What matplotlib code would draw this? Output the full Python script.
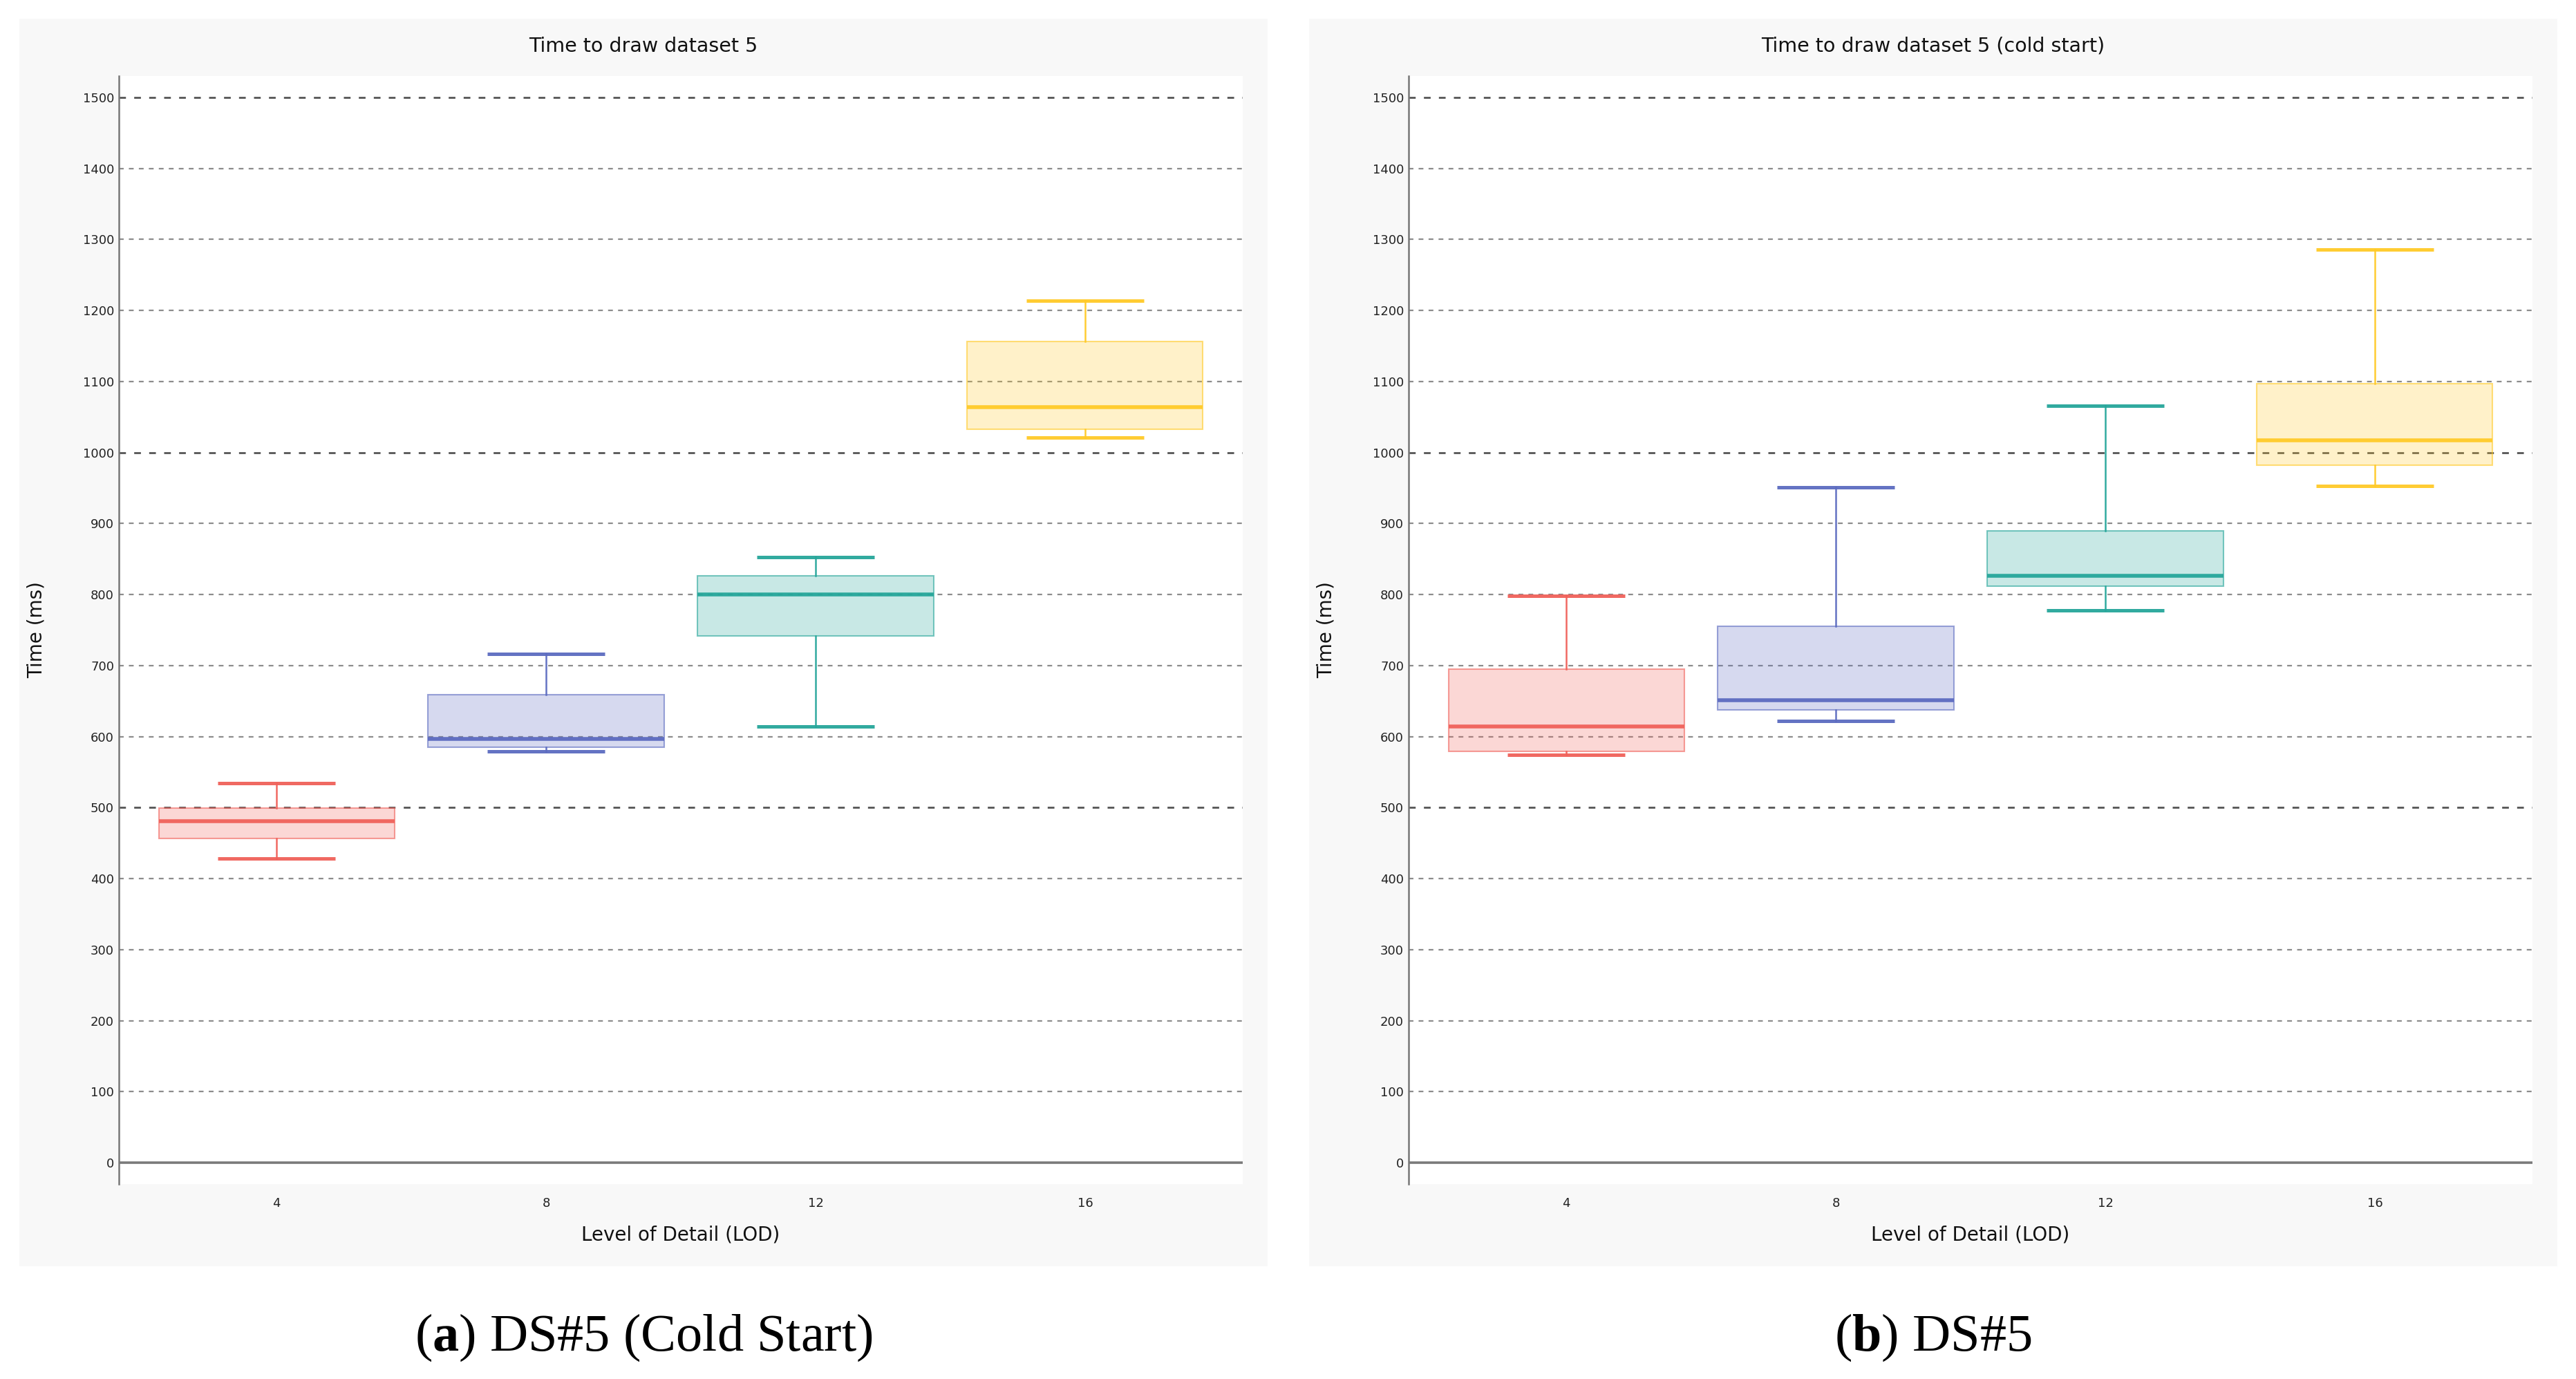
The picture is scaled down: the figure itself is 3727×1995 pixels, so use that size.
import matplotlib
matplotlib.use("Agg")
import matplotlib.pyplot as plt
from matplotlib.patches import Rectangle
from matplotlib.colors import to_rgba

plt.rcParams['font.family'] = ['DejaVu Sans']
plt.rcParams['lines.scale_dashes'] = False
plt.rcParams['mathtext.fontset'] = 'custom'
plt.rcParams['mathtext.rm'] = 'Liberation Serif'
plt.rcParams['mathtext.bf'] = 'Liberation Serif:bold'

# level of detail categories
lod = [4, 8, 12, 16]
colors = ['#f0615a', '#5c6bc0', '#26a69a', '#ffca28']

# (a) left panel - box statistics (ms)
a_low = [428, 579, 614, 1021]
a_q1 = [457, 585, 742, 1033]
a_med = [481, 597, 800, 1064]
a_q3 = [499, 659, 826, 1156]
a_high = [534, 716, 853, 1214]

# (b) right panel - box statistics (ms)
b_low = [574, 622, 778, 953]
b_q1 = [579, 638, 812, 982]
b_med = [614, 651, 826, 1017]
b_q3 = [695, 755, 890, 1097]
b_high = [798, 951, 1066, 1286]

yticks = list(range(0, 1600, 100))

W, H = 3727, 1995
fig = plt.figure(figsize=(W / 100, H / 100), dpi=100, facecolor='white')


def px_rect(x0, y0, x1, y1):
    # pixel box (top-left origin) -> figure fraction [l, b, w, h]
    return [x0 / W, 1 - y1 / H, (x1 - x0) / W, (y1 - y0) / H]


def draw_panel(bg_x0, title, caption, low, q1, med, q3, high):
    bg = px_rect(bg_x0, 27, bg_x0 + 1806, 1832)
    fig.patches.append(Rectangle((bg[0], bg[1]), bg[2], bg[3], transform=fig.transFigure,
                                 facecolor='#f8f8f8', edgecolor='none', zorder=-5))
    ax_x0 = bg_x0 + 144
    ax = fig.add_axes(px_rect(ax_x0, 110, ax_x0 + 1626, 1713))
    ax.set_facecolor('white')

    # horizontal guide lines: solid at 0, long dashes every 500, short dashes otherwise
    for v in yticks:
        if v == 0:
            ax.axhline(v, color='#7a7a7a', lw=2.6, ls='-', zorder=1)
        elif v % 500 == 0:
            ax.axhline(v, color='#555555', lw=2.0, ls=(0, (7.0, 8.6)), zorder=1)
        else:
            ax.axhline(v, color='#8c8c8c', lw=1.6, ls=(0, (5.0, 5.4)), zorder=1)

    for i, x in enumerate(lod):
        c = colors[i]
        stats = [dict(med=med[i], q1=q1[i], q3=q3[i], whislo=low[i], whishi=high[i], fliers=[])]
        ax.bxp(stats, positions=[x], widths=3.5, capwidths=1.75, patch_artist=True,
               showfliers=False, manage_ticks=False, zorder=2,
               boxprops=dict(facecolor=to_rgba(c, 0.25), edgecolor=to_rgba(c, 0.6), linewidth=1.5),
               whiskerprops=dict(color=to_rgba(c, 0.95), linewidth=1.8),
               capprops=dict(color=to_rgba(c, 0.95), linewidth=3.6, solid_capstyle='butt'),
               medianprops=dict(color=to_rgba(c, 0.95), linewidth=4.0, solid_capstyle='butt'))

    ax.set_xlim(1.66, 18.34)
    ax.set_ylim(-30, 1530)
    ax.set_xticks(lod)
    ax.set_xticklabels([str(v) for v in lod])
    ax.set_yticks(yticks)
    ax.tick_params(axis='both', length=0, labelsize=13, labelcolor='#222222')
    ax.tick_params(axis='y', pad=5)
    ax.tick_params(axis='x', pad=14)

    for s in ['top', 'right', 'bottom']:
        ax.spines[s].set_visible(False)
    ax.spines['left'].set_color('#777777')
    ax.spines['left'].set_linewidth(1.8)

    ax.set_ylabel('Time (ms)', fontsize=20, color='#111111')
    ax.yaxis.set_label_coords(-0.0646, 0.5)
    ax.set_xlabel('Level of Detail (LOD)', fontsize=20, color='#111111')
    ax.xaxis.set_label_coords(0.5, -0.046)
    ax.xaxis.label.set_verticalalignment('center')

    cx = (bg_x0 + 903) / W
    fig.text(cx, 1 - 67 / H, title, ha='center', va='center', fontsize=20.5, color='#111111')
    fig.text(cx, 1 - 1935 / H, caption, ha='center', va='center', fontsize=55,
             family='Liberation Serif', color='black')
    return ax


draw_panel(28, 'Time to draw dataset 5', r'($\mathbf{a}$) DS#5 (Cold Start)',
           a_low, a_q1, a_med, a_q3, a_high)
draw_panel(1894, 'Time to draw dataset 5 (cold start)', r'($\mathbf{b}$) DS#5',
           b_low, b_q1, b_med, b_q3, b_high)

fig.savefig('out.png', dpi=100, facecolor='white')
